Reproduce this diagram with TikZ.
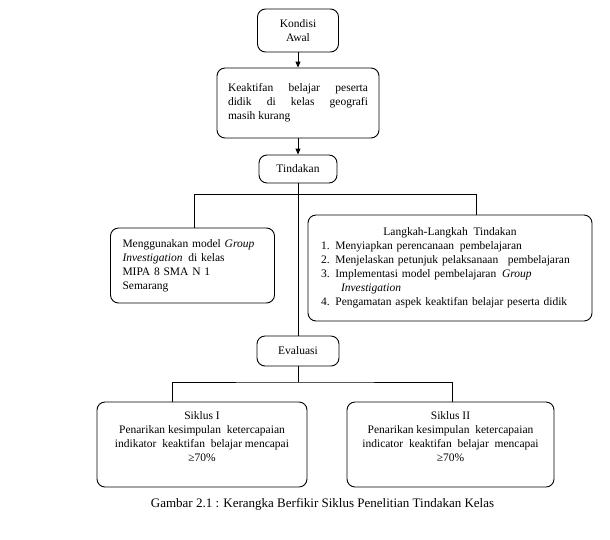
\documentclass[tikz,border=0pt]{standalone}
\usepackage{fontspec}
\setmainfont{Liberation Serif}
\usetikzlibrary{arrows.meta}
\newcommand\myboxfont{\fontsize{11.5}{14}\selectfont\hyphenpenalty=10000\relax}
\begin{document}
\begin{tikzpicture}[x=1pt,y=-1pt,
  box/.style={draw,rounded corners=8pt,line width=0.9pt,inner sep=0pt,font=\myboxfont},
  conn/.style={line width=0.9pt},
  arr/.style={line width=0.9pt,-{Triangle[length=6pt,width=5pt]}}]
\useasboundingbox (0,0) rectangle (610,539);
\node[box,minimum width=81,minimum height=43,align=center] (kondisi) at (298,30.5) {Kondisi\\Awal};
\node[box,minimum width=162,minimum height=70,text width=140,align=justify] (keak) at (298,103)
  {Keaktifan belajar peserta\linebreak didik di kelas geografi\linebreak masih kurang\par\vspace{6pt}};
\node[box,minimum width=78,minimum height=28] (tindakan) at (298,169) {Tindakan};
\node[box,minimum width=164,minimum height=75,text width=140,align=left] (model) at (192.5,265.5)
  {Menggunakan model \textit{Group}\\\textit{Investigation}\enspace di kelas\\MIPA 8 SMA N 1\\Semarang};
\node[box,minimum width=284,minimum height=106,text width=258,align=left] (langkah) at (450,268)
  {\makebox[\hsize][c]{Langkah-Langkah\enspace Tindakan}\\
   1. Menyiapkan perencanaan\enspace pembelajaran\\
   2. Menjelaskan petunjuk pelaksanaan\enspace\ pembelajaran\\
   3. Implementasi model pembelajaran\enspace \textit{Group}\\
   \hspace*{20pt}\textit{Investigation}\\
   4. Pengamatan aspek keaktifan belajar peserta didik};
\node[box,minimum width=82,minimum height=30] (evaluasi) at (298,351) {Evaluasi};
\node[box,minimum width=210,minimum height=85,align=center] (siklus1) at (202,444.5)
  {Siklus I\\Penarikan kesimpulan\enspace ketercapaian\\indikator\enspace keaktifan\enspace belajar mencapai\\ ≥70\%\\[3pt]};
\node[box,minimum width=207,minimum height=85,align=center] (siklus2) at (450.5,444.5)
  {Siklus II\\Penarikan kesimpulan\enspace ketercapaian\\indicator\enspace keaktifan\enspace belajar\enspace mencapai\\ ≥70\%\\[3pt]};
\node[font=\fontsize{13}{15}\selectfont] (caption) at (322.5,504)
  {Gambar 2.1 : Kerangka Berfikir Siklus Penelitian Tindakan Kelas};
% connectors
\draw[arr] (kondisi) -- (keak);
\draw[arr] (keak) -- (tindakan);
\draw[conn] (tindakan) -- (evaluasi);
\coordinate (bar1) at (298,194.5);
\path (langkah.north) ++(26,0) coordinate (ltop);
\path (model.north) ++(1.5,0) coordinate (mtop);
\draw[conn] (mtop) |- (bar1) -| (ltop);
\coordinate (bar2) at (298,382);
\path (siklus1.north) ++(-30,0) coordinate (s1top);
\path (siklus2.north) ++(1.5,0) coordinate (s2top);
\draw[conn] (evaluasi) -- (bar2);
\draw[conn] (s1top) |- (bar2) -| (s2top);
\end{tikzpicture}
\end{document}
